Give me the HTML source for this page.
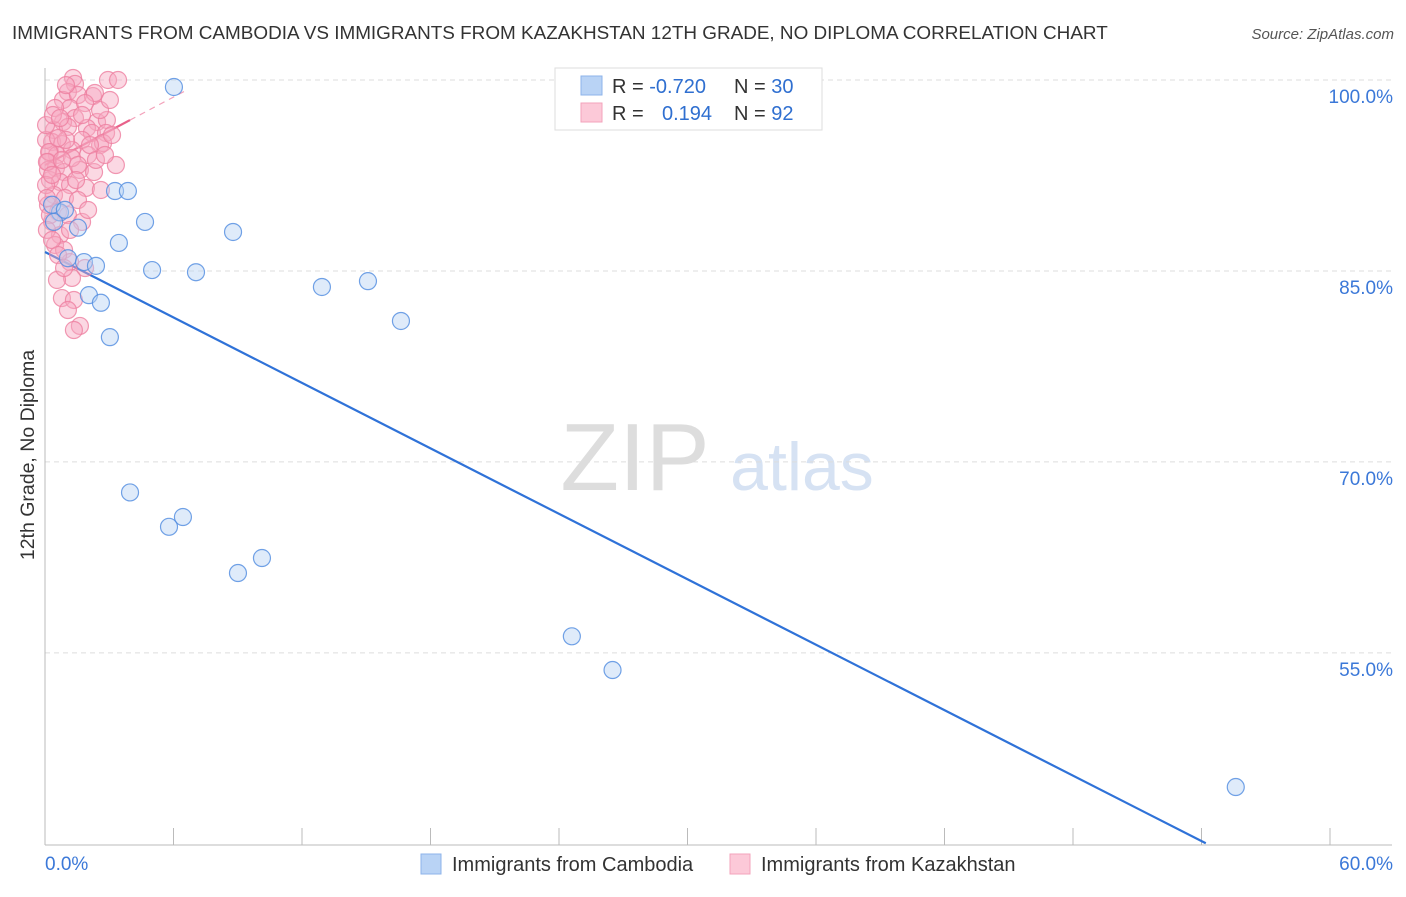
<!DOCTYPE html>
<html><head><meta charset="utf-8"><style>
body{margin:0;background:#fff;font-family:"Liberation Sans",sans-serif;}
svg text{font-family:"Liberation Sans",sans-serif;}
</style></head><body>
<svg id="chart" width="1406" height="892" xmlns="http://www.w3.org/2000/svg">
<text x="12" y="39" font-size="18.9" fill="#333">IMMIGRANTS FROM CAMBODIA VS IMMIGRANTS FROM KAZAKHSTAN 12TH GRADE, NO DIPLOMA CORRELATION CHART</text>
<text x="1394" y="39" font-size="15" fill="#555" font-style="italic" text-anchor="end">Source: ZipAtlas.com</text>
<text transform="translate(34,455) rotate(-90)" font-size="19.5" fill="#333" text-anchor="middle">12th Grade, No Diploma</text>
<g>
<text x="635" y="490" font-size="96" fill="#ddd" font-family="Liberation Serif" text-anchor="middle">ZIP</text>
<text x="802" y="490" font-size="68" fill="#d6e2f3" text-anchor="middle">atlas</text>
</g>
<g id="grid"></g><g id="axes"></g><g id="trends"></g><g id="points"></g>
<g>
<rect x="555" y="68" width="267" height="62" fill="#fff" stroke="#ddd"/>
<rect x="581" y="76" width="21" height="19" fill="#b9d3f5" stroke="#8db3ea"/>
<rect x="581" y="103" width="21" height="19" fill="#fcc9d8" stroke="#f3a3bb"/>
<text x="612" y="93" font-size="20" fill="#333">R = <tspan fill="#2f6fd0">-0.720</tspan></text>
<text x="734" y="93" font-size="20" fill="#333">N = <tspan fill="#2f6fd0">30</tspan></text>
<text x="612" y="120" font-size="20" fill="#333">R = <tspan fill="#2f6fd0" x="662">0.194</tspan></text>
<text x="734" y="120" font-size="20" fill="#333">N = <tspan fill="#2f6fd0">92</tspan></text>
</g>
<g>
<rect x="421" y="854" width="20" height="20" fill="#b9d3f5" stroke="#8db3ea"/>
<text x="452" y="871" font-size="20" fill="#333">Immigrants from Cambodia</text>
<rect x="730" y="854" width="20" height="20" fill="#fcc9d8" stroke="#f3a3bb"/>
<text x="761" y="871" font-size="20" fill="#333">Immigrants from Kazakhstan</text>
</g>
</svg>
<script>
const yTicks=[100,85,70,55];
const yTickLabels=["100.0%","85.0%","70.0%","55.0%"];
const xTickLabels=["0.0%","60.0%"];
const blueX=[6.02,3.27,3.87,4.67,8.78,3.45,0.7,1.54,0.42,1.07,1.82,2.38,5.0,7.05,12.93,15.08,2.05,2.61,16.62,3.03,3.97,6.44,5.79,9.01,10.13,24.6,26.5,55.6,0.33,0.93];
const blueY=[99.45,91.28,91.28,88.85,88.06,87.2,89.6,88.4,88.85,86.0,85.7,85.4,85.07,84.9,83.74,84.2,83.1,82.5,81.07,79.8,67.6,65.67,64.9,61.27,62.45,56.3,53.65,44.46,90.2,89.8];
const pinkX=[1.31,1.4,2.94,3.41,1.07,0.84,1.54,2.24,2.33,1.17,0.47,1.87,1.4,0.84,2.43,2.89,0.42,1.07,1.96,2.19,2.85,0.33,0.79,1.73,2.57,2.71,0.23,0.56,1.26,2.01,3.31,0.14,0.51,0.89,1.63,2.29,0.23,0.7,1.17,1.91,2.61,0.42,0.93,1.54,0.14,0.61,1.07,1.73,0.33,0.7,0.47,0.89,1.17,1.87,1.26,0.56,0.79,1.35,1.07,1.63,1.35,0.14,0.05,0.09,0.23,0.05,0.05,0.37,0.7,0.98,1.26,1.54,2.1,2.57,3.03,3.13,2.38,2.8,0.09,0.33,0.61,0.89,0.19,0.09,0.33,0.79,1.45,2.01,1.17,0.61,1.73,0.98];
const pinkY=[100.16,99.69,100,100,99.06,98.43,98.82,98.74,98.98,97.8,97.8,98.19,97.01,96.7,96.7,96.86,96.07,96.31,96.23,95.84,95.84,95.13,94.97,95.29,94.89,95.05,94.34,94.11,94.5,94.11,93.32,93.56,93.09,92.77,92.93,92.77,92.14,91.99,91.75,91.52,91.36,90.97,90.73,90.57,90.18,89.63,89.39,88.85,88.85,87.82,87.04,86.65,85.7,85.23,84.45,84.29,82.87,82.72,81.93,80.68,80.36,92.93,91.75,90.73,89.39,95.29,96.46,97.25,97.01,95.29,93.87,93.32,94.89,97.64,98.43,95.68,93.72,94.11,88.22,87.43,86.25,85.23,94.34,93.56,92.54,93.72,92.14,89.79,88.22,95.44,97.25,99.6];
const blueTrend=[86.49,-0.857,0,54.2];
const pinkTrend=[93.32,0.89,0,3.97,6.5];
const NS="http://www.w3.org/2000/svg";
const X0=45,X1=1330,Y100=80,PXY=12.73;
function sx(v){return X0+v*(X1-X0)/60;}
function sy(v){return Y100+(100-v)*PXY;}
function mk(tag,attrs,parent){const e=document.createElementNS(NS,tag);for(const k in attrs)e.setAttribute(k,attrs[k]);parent.appendChild(e);return e;}
const grid=document.getElementById('grid'),axes=document.getElementById('axes'),tr=document.getElementById('trends'),pts=document.getElementById('points');
yTicks.forEach((t,i)=>{
 const l=mk('line',{x1:45,x2:1392,y1:sy(t),y2:sy(t),stroke:'#ddd','stroke-dasharray':'5,4'},grid);
 
 
 const tx=mk('text',{x:1393,y:sy(t)+23,'font-size':19,fill:'#3b78d8','text-anchor':'end'},grid);
 tx.textContent=yTickLabels[i];
 
 
});
const ya=mk('line',{x1:45,x2:45,y1:68,y2:845,stroke:'#bbb'},axes);


const xa=mk('line',{x1:45,x2:1392,y1:845,y2:845,stroke:'#bbb'},axes);


for(let k=0;k<=10;k++){
 const t=mk('line',{x1:sx(k*6),x2:sx(k*6),y1:828,y2:845,stroke:'#bbb'},axes);
 
 
}
[[0,'start',45],[60,'end',1393]].forEach((d,i)=>{
 const tx=mk('text',{x:d[2],y:870,'font-size':19,fill:'#3b78d8','text-anchor':d[1]},axes);
 tx.textContent=xTickLabels[i];
 
 
});
function drawPts(xs,ys,fill,stroke,name){
 xs.forEach((x,i)=>{
  const c=mk('circle',{cx:sx(x),cy:sy(ys[i]),r:8.5,fill:fill,'fill-opacity':0.45,stroke:stroke,'stroke-width':1.2,'stroke-opacity':0.8},pts);
  
  
 });
}
drawPts(pinkX,pinkY,'#f7a8c0','#ee7fa0','kazakhstan-point');
drawPts(blueX,blueY,'#b9d3f5','#4f8be0','cambodia-point');
const bl=mk('line',{x1:sx(blueTrend[2]),y1:sy(blueTrend[0]+blueTrend[1]*blueTrend[2]),x2:sx(blueTrend[3]),y2:sy(blueTrend[0]+blueTrend[1]*blueTrend[3]),stroke:'#2f72d8','stroke-width':2.2},tr);


const pl=mk('line',{x1:sx(pinkTrend[2]),y1:sy(pinkTrend[0]),x2:sx(pinkTrend[3]),y2:sy(pinkTrend[0]+pinkTrend[1]*pinkTrend[3]),stroke:'#e8628a','stroke-width':2.2},tr);


const pd=mk('line',{x1:sx(pinkTrend[3]),y1:sy(pinkTrend[0]+pinkTrend[1]*pinkTrend[3]),x2:sx(pinkTrend[4]),y2:sy(pinkTrend[0]+pinkTrend[1]*pinkTrend[4]),stroke:'#f3a3bb','stroke-width':1.2,'stroke-dasharray':'6,5'},tr);


</script>
</body></html>
